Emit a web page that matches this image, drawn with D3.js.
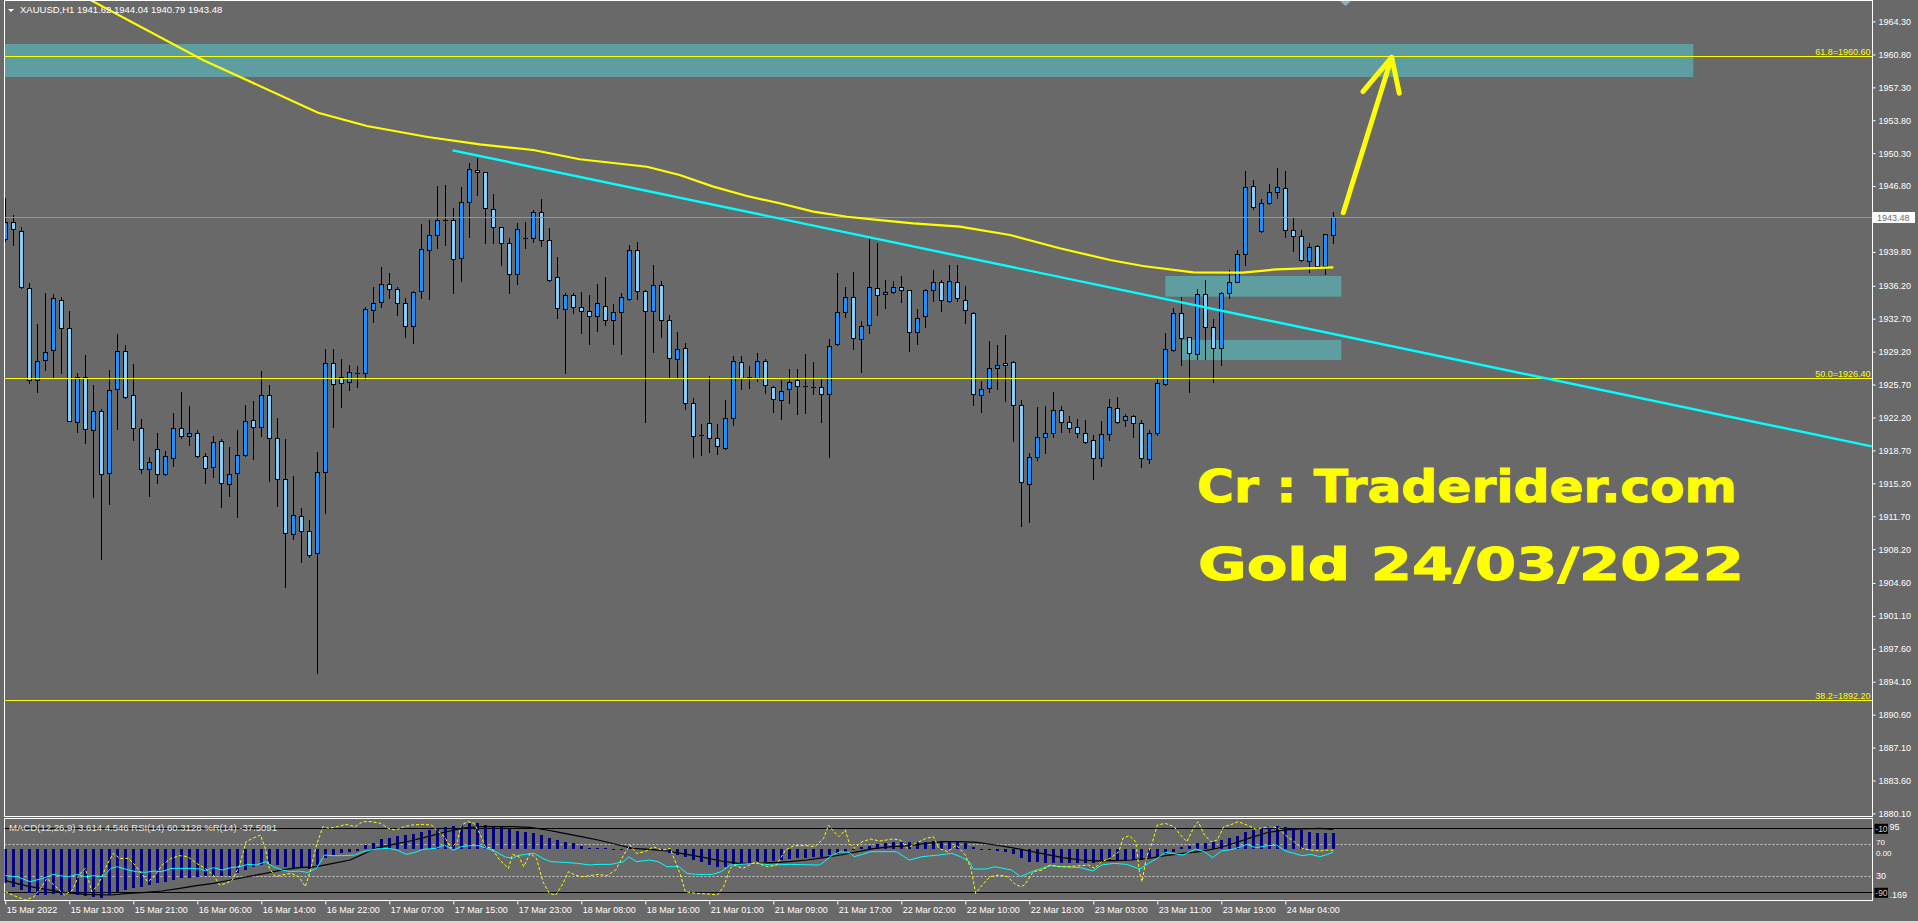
<!DOCTYPE html>
<html><head><meta charset="utf-8">
<script src="https://cdn.jsdelivr.net/npm/d3@7/dist/d3.min.js"></script>
<style>html,body{margin:0;padding:0;background:#696969;overflow:hidden}svg{display:block}</style>
</head><body><svg id="c" width="1918" height="923"></svg>
<script>
// ---------------- DATA ----------------
const symbolHeader = "XAUUSD,H1  1941.62 1944.04 1940.79 1943.48";
const indicatorHeader = "MACD(12,26,9) 3.614 4.546  RSI(14) 60.3128  %R(14) -37.5091";

const opens = [1941.14,1943.02,1942.06,1936.0,1926.18,1928.31,1929.37,1934.65,1931.67,1921.68,
1926.54,1920.87,1922.85,1916.26,1925.19,1929.3,1924.62,1921.04,1916.68,1918.81,
1916.15,1917.85,1921.04,1920.26,1920.51,1918.1,1916.9,1919.66,1915.09,1916.26,
1918.17,1921.93,1921.15,1924.55,1919.98,1915.62,1909.81,1911.72,1910.13,1907.75,
1916.36,1927.95,1926.54,1925.93,1926.96,1926.89,1933.62,1934.44,1936.35,1935.82,
1934.33,1931.89,1935.64,1939.97,1941.56,1943.16,1943.16,1939.12,1945.07,1948.47,
1948.26,1944.33,1942.41,1940.71,1937.42,1941.24,1941.24,1944.01,1941.03,1937.1,
1933.7,1935.19,1933.98,1933.48,1932.95,1934.08,1932.53,1933.38,1934.8,1939.97,
1935.68,1933.48,1936.25,1932.53,1928.38,1929.55,1923.7,1920.37,1921.57,1919.98,
1918.92,1922.1,1928.06,1926.47,1926.36,1928.17,1925.48,1924.06,1925.19,1926.15,
1925.58,1925.48,1925.4,1924.69,1930.01,1933.38,1935.04,1930.5,1932.0,1935.93,
1935.29,1935.57,1936.11,1935.72,1931.25,1932.95,1935.72,1936.64,1934.55,1936.64,
1934.65,1933.34,1924.55,1925.3,1927.42,1927.95,1928.06,1923.49,1915.09,1917.96,
1920.09,1920.51,1922.96,1921.68,1921.15,1920.51,1919.77,1917.93,1920.41,1923.17,
1921.93,1922.35,1921.65,1917.75,1920.58,1925.76,1929.37,1933.27,1930.72,1928.95,
1935.29,1931.85,1929.55,1935.4,1936.64,1939.54,1946.77,1941.99,1944.97,1946.14,
1946.56,1942.1,1941.46,1938.8,1940.39,1938.34,1941.62];
const highs = [1945.5,1943.7,1942.4,1936.46,1932.1,1935.4,1935.3,1934.97,1933.5,1926.96,
1928.84,1925.65,1923.13,1927.21,1931.07,1929.9,1927.88,1922.0,1917.96,1920.5,
1918.63,1922.7,1924.87,1923.4,1920.87,1918.38,1920.23,1919.87,1919.1,1920.87,
1923.52,1923.98,1927.14,1925.65,1922.14,1919.91,1915.97,1912.54,1911.3,1918.49,
1929.44,1929.44,1928.38,1927.77,1927.67,1933.98,1936.11,1938.16,1937.52,1936.04,
1934.86,1935.6,1942.77,1943.19,1946.81,1946.9,1944.43,1946.74,1949.29,1949.75,
1948.3,1945.96,1942.45,1941.24,1942.84,1942.98,1944.26,1945.43,1942.34,1939.26,
1935.47,1935.4,1935.5,1935.22,1936.39,1937.1,1934.26,1935.4,1940.57,1940.82,
1935.75,1938.41,1936.74,1933.06,1931.29,1930.08,1924.23,1921.5,1926.61,1921.5,
1924.06,1928.73,1928.73,1927.67,1929.02,1928.38,1925.55,1926.18,1927.32,1927.32,
1928.91,1928.06,1926.29,1930.5,1937.52,1936.04,1937.63,1932.42,1941.17,1940.71,
1936.78,1936.74,1937.24,1935.8,1933.73,1935.82,1937.88,1936.81,1938.41,1938.41,
1936.18,1933.4,1926.08,1930.33,1929.9,1930.97,1928.24,1924.06,1918.45,1923.35,
1923.42,1924.87,1923.42,1922.35,1922.0,1921.93,1920.33,1921.82,1924.16,1924.41,
1922.57,1922.46,1921.93,1920.87,1926.25,1931.22,1933.8,1935.04,1930.79,1935.86,
1936.81,1932.63,1935.54,1937.88,1940.0,1948.4,1947.45,1945.39,1946.99,1948.69,
1948.4,1943.48,1942.13,1940.71,1940.5,1941.67,1944.04];
const lows = [1941.0,1940.5,1936.0,1925.83,1924.94,1927.24,1926.43,1926.9,1921.8,1920.69,
1919.45,1913.78,1907.11,1912.96,1921.0,1924.3,1919.8,1916.33,1913.88,1915.27,
1916.1,1917.07,1919.98,1919.27,1917.96,1915.27,1915.9,1912.71,1913.88,1911.65,
1918.1,1917.82,1920.26,1915.48,1912.82,1904.14,1909.31,1906.87,1907.4,1895.06,
1912.07,1921.22,1923.35,1925.12,1925.47,1926.25,1932.38,1933.91,1934.93,1933.06,
1930.72,1930.15,1934.93,1934.76,1940.18,1940.54,1935.47,1936.74,1941.35,1945.85,
1940.71,1940.78,1938.45,1935.47,1936.43,1940.25,1940.89,1940.46,1936.7,1932.81,
1926.89,1933.27,1931.22,1929.97,1931.43,1931.99,1929.97,1928.91,1934.69,1934.83,
1921.75,1929.2,1930.79,1926.36,1926.36,1923.06,1917.96,1918.17,1918.49,1918.28,
1918.81,1921.4,1925.19,1925.37,1926.11,1924.84,1922.82,1921.99,1923.7,1922.53,
1922.71,1924.69,1921.68,1917.96,1929.95,1932.85,1929.51,1927.07,1931.22,1933.13,
1933.87,1935.4,1934.51,1929.3,1930.04,1931.85,1934.58,1933.55,1934.5,1934.62,
1932.21,1923.49,1922.82,1924.94,1925.23,1923.99,1919.73,1910.69,1911.12,1917.68,
1918.39,1920.16,1920.62,1920.69,1920.09,1919.45,1915.62,1917.07,1919.8,1921.57,
1921.33,1920.16,1916.97,1917.39,1920.33,1925.65,1929.3,1927.78,1924.94,1928.38,
1928.38,1925.93,1927.74,1934.87,1936.6,1938.41,1944.33,1941.95,1944.9,1945.5,
1941.35,1939.86,1938.84,1937.7,1938.23,1937.45,1940.79];
const closes = [1943.02,1942.2,1936.1,1926.18,1928.24,1929.2,1934.86,1931.67,1921.82,1926.54,
1920.97,1922.85,1916.15,1925.08,1929.3,1924.34,1921.04,1916.68,1917.5,1916.15,
1918.1,1921.04,1920.26,1920.51,1918.14,1916.79,1919.55,1915.2,1916.15,1918.17,
1921.79,1921.15,1924.55,1919.98,1915.62,1909.88,1911.8,1910.13,1907.61,1916.36,
1928.02,1925.72,1925.83,1927.07,1926.96,1933.7,1934.33,1936.35,1935.82,1934.33,
1931.96,1935.57,1940.08,1941.56,1943.16,1943.16,1939.0,1945.07,1948.58,1948.26,
1944.43,1942.41,1940.71,1937.42,1942.2,1941.24,1944.01,1941.03,1936.78,1933.8,
1935.19,1933.91,1933.48,1932.95,1934.33,1932.53,1933.38,1935.04,1939.97,1935.61,
1933.48,1936.25,1932.53,1928.49,1929.44,1923.7,1920.23,1920.37,1919.98,1919.17,
1922.1,1928.17,1926.36,1926.47,1928.17,1925.62,1924.13,1925.05,1926.0,1925.54,
1925.58,1925.48,1924.66,1929.83,1933.38,1935.04,1930.61,1931.96,1936.04,1935.19,
1935.5,1936.11,1935.72,1931.25,1932.81,1935.72,1936.64,1934.65,1936.74,1934.86,
1933.59,1924.66,1925.19,1927.42,1927.74,1927.74,1923.49,1915.3,1917.96,1920.09,
1920.51,1922.96,1921.68,1921.04,1920.58,1919.63,1917.93,1920.41,1923.28,1921.75,
1922.35,1921.65,1917.85,1920.58,1925.83,1929.44,1933.27,1930.61,1929.02,1935.29,
1931.85,1929.55,1935.4,1936.64,1939.54,1946.67,1944.54,1944.97,1946.14,1946.67,
1942.1,1941.46,1938.91,1940.29,1938.34,1941.67,1943.48];

// Moving average (yellow) read at points [bar, price]
const maPoints = [[0,1971.4],[10.6,1966.6],[24.7,1960.21],[39.1,1954.6],[45.2,1953.19],[52.8,1952.02],
[59.3,1951.24],[66,1950.64],[71.8,1949.65],[80.2,1948.86],[84.3,1947.98],[88.5,1946.74],[92.7,1945.75],
[96.8,1944.97],[101,1944.08],[105.2,1943.54],[109.3,1943.19],[113.5,1942.84],[119.3,1942.48],
[125.6,1941.6],[131.8,1940.19],[138.1,1938.94],[142.2,1938.3],[148.5,1937.63],[154.7,1937.59],
[158.9,1937.95],[166,1938.16]];
// Trend line (cyan), ray to the right
const trendPoints = [[55.9,1950.6],[233.3,1919.13]];
// Rectangles: [startBar, endBar, topPrice, bottomPrice]
const zones = [[-2,211,1961.91,1958.4],[145,167,1937.24,1935.04],[147,167,1930.44,1928.31]];
// Fibonacci levels
const fibRatios = ["61.8","50.0","38.2"];
const fibPrices = [1960.60,1926.40,1892.20];
const bidPrice = 1943.48;
// Arrow [bar, price]
const arrowShaft = [[167.25,1943.97],[173.3,1960.49]];
const arrowHead = [[169.7,1956.84],[173.3,1960.49],[174.25,1956.67]];

const priceTicks = [1964.30,1960.80,1957.30,1953.80,1950.30,1946.80,1939.80,1936.20,1932.70,1929.20,
1925.70,1922.20,1918.70,1915.20,1911.70,1908.20,1904.60,1901.10,1897.60,1894.10,1890.60,1887.10,1883.60,1880.10];
const timeTickBars = [0,8,16,24,32,40,48,56,64,72,80,88,96,104,112,120,128,136,144,152,160];
const timeLabels = ["15 Mar 2022","15 Mar 13:00","15 Mar 21:00","16 Mar 06:00","16 Mar 14:00","16 Mar 22:00",
"17 Mar 07:00","17 Mar 15:00","17 Mar 23:00","18 Mar 08:00","18 Mar 16:00","21 Mar 01:00","21 Mar 09:00",
"21 Mar 17:00","22 Mar 02:00","22 Mar 10:00","22 Mar 18:00","23 Mar 03:00","23 Mar 11:00","23 Mar 19:00","24 Mar 04:00"];

// MACD main (histogram), per bar
const macdHist = [-7.98,-8.76,-9.53,-10.31,-10.70,-10.70,-10.54,-10.70,-10.54,-10.70,
-10.93,-11.09,-11.32,-10.70,-9.92,-9.53,-9.15,-8.76,-8.37,-7.98,
-7.60,-7.21,-6.82,-6.67,-6.43,-6.28,-6.20,-6.28,-6.20,-5.66,
-4.88,-4.11,-3.72,-3.57,-3.72,-4.11,-4.34,-4.50,-4.65,-3.72,
-2.17,-1.40,-1.01,-0.62,-0.47,0.93,1.32,2.33,2.64,3.10,
3.26,3.49,3.88,4.42,4.65,5.04,5.27,5.58,5.97,5.97,
5.58,5.43,5.04,4.65,4.19,4.03,3.64,3.26,2.48,2.09,
1.71,1.32,0.70,0.31,0.16,0.16,-0.08,-0.23,0.16,0.16,
-0.08,-0.23,-0.47,-1.01,-1.40,-1.94,-2.56,-2.95,-3.72,-4.11,
-4.11,-3.72,-3.57,-3.33,-2.95,-2.95,-2.71,-2.56,-2.40,-2.17,
-2.02,-1.94,-1.78,-1.40,-1.16,-0.62,-0.23,0.54,0.78,1.09,
1.32,1.71,1.71,1.71,1.55,1.71,1.86,1.94,1.86,1.71,
1.32,0.54,-0.08,-0.23,-0.47,-0.78,-1.24,-2.17,-2.95,-3.10,
-3.33,-3.33,-3.18,-3.18,-3.18,-3.18,-3.18,-2.95,-2.79,-2.71,
-2.71,-2.56,-2.56,-2.17,-1.78,-1.16,-0.62,0.54,0.78,1.32,
1.32,1.71,2.09,2.48,3.10,4.03,4.42,4.81,5.35,5.43,
5.19,4.81,4.42,4.03,3.64,3.64,3.614];
const macdSignal = [[0,-7.36],[2.5,-8.53],[4.7,-9.30],[7.4,-10.08],[10.0,-10.54],[13.2,-10.70],[15.4,-10.31],
[17.5,-10.08],[19.6,-9.77],[21.8,-9.15],[23.9,-8.53],[26.0,-7.98],[28.2,-7.21],[30.3,-6.43],[32.5,-5.66],
[34.6,-4.88],[36.7,-4.34],[38.9,-4.11],[41.0,-3.33],[43.1,-2.56],[44.7,-1.24],[46.3,0.16],[48.5,1.09],
[50.6,1.86],[52.8,2.87],[54.9,3.88],[57.0,4.81],[59.2,5.19],[63.4,5.19],[65.6,5.04],[67.7,4.42],[69.9,3.64],
[72.0,2.87],[74.1,2.09],[76.3,1.09],[78.4,0.16],[80.5,-0.08],[82.7,-0.47],[85.2,-1.24],[87.4,-2.02],
[89.5,-2.79],[91.6,-3.33],[93.8,-3.33],[95.9,-3.18],[98.0,-2.95],[100.2,-2.56],[102.3,-2.02],[104.4,-1.40],
[106.6,-0.62],[108.7,0.16],[110.9,0.54],[113.0,0.78],[115.1,1.32],[117.3,1.71],[119.4,1.71],[121.5,1.55],
[123.7,0.93],[125.8,0.31],[128.0,-0.47],[130.1,-1.24],[132.2,-2.02],[134.4,-2.56],[136.5,-2.79],[138.6,-2.71],
[140.8,-2.56],[142.9,-2.17],[145.0,-1.55],[147.2,-1.01],[149.3,-0.62],[151.5,0.16],[153.6,1.32],[155.7,2.64],
[157.9,3.88],[160.0,4.42],[162.1,4.65],[164.3,4.81],[166,4.546]];
const rsiPoints = [[0,30.8],[1.5,29.5],[3.1,23.3],[4.7,27.4],[6.0,32.4],[6.8,30.8],[7.9,29.5],[9.0,32.4],[10.0,29.5],
[11.1,30.8],[12.2,29.5],[13.2,39.9],[14.0,42.0],[15.4,37.8],[16.4,35.8],[17.5,34.9],[18.6,36.6],[19.6,35.8],
[20.7,39.9],[21.8,39.9],[23.4,39.9],[24.4,39.1],[25.0,37.0],[26.0,40.8],[27.1,37.8],[28.2,40.8],[29.3,42.0],
[30.3,44.9],[31.4,44.1],[32.5,48.3],[33.5,42.0],[34.6,37.8],[35.7,35.8],[36.7,36.6],[37.8,34.9],[38.9,39.9],
[39.9,56.6],[41.0,55.8],[42.1,55.8],[43.7,56.6],[44.7,60.8],[46.3,64.1],[47.9,64.9],[49.0,62.8],[50.1,57.4],
[51.2,59.9],[52.2,63.7],[53.8,64.9],[54.9,69.1],[56.0,62.8],[57.0,67.0],[58.1,68.3],[59.2,68.3],[60.2,64.9],
[61.3,60.8],[62.4,54.5],[63.4,52.4],[64.0,55.8],[65.0,57.4],[66.1,58.7],[67.2,52.4],[68.2,48.3],[69.9,47.4],
[71.5,46.2],[73.1,44.1],[74.1,44.9],[75.7,44.9],[77.3,48.3],[77.9,54.5],[78.9,48.3],[80.5,50.3],[81.6,48.3],
[82.7,42.0],[84.2,42.0],[85.2,33.7],[86.3,32.4],[88.4,32.4],[89.5,35.8],[90.6,44.1],[91.6,44.9],[93.8,46.2],
[95.9,44.1],[98.0,44.9],[101.8,44.1],[103.4,56.6],[104.4,60.8],[105.5,59.9],[106.1,54.5],[107.1,57.4],
[108.2,60.8],[111.4,60.8],[113.0,50.3],[114.6,54.5],[116.7,56.6],[118.3,58.7],[119.4,54.5],[120.5,48.3],
[121.0,39.1],[122.6,39.1],[123.7,42.0],[125.8,37.8],[126.9,29.5],[128.5,36.6],[129.6,39.9],[130.6,43.3],
[132.2,42.0],[134.4,40.8],[136.0,36.6],[137.0,44.1],[138.6,46.2],[140.2,44.9],[141.8,39.1],[142.9,46.2],
[144.0,52.4],[145.0,59.9],[147.2,56.6],[148.8,64.1],[149.9,60.8],[150.9,53.3],[152.0,61.6],[153.6,64.1],
[155.2,69.9],[156.3,65.8],[157.9,68.3],[158.9,69.1],[160.0,61.6],[161.1,58.7],[162.1,55.8],[163.2,57.4],
[164.3,54.5],[165.3,57.4],[166,60.31]];
const wprPoints = [[0,-89.2],[0.9,-93.4],[2.5,-99.7],[3.6,-95.5],[4.7,-80.9],[5.2,-72.6],[6.3,-83.0],[7.4,-93.4],
[8.4,-87.2],[9.2,-68.4],[10.0,-60.1],[10.8,-89.2],[11.6,-80.9],[12.7,-55.9],[13.5,-41.3],[14.3,-47.6],[15.4,-47.6],
[16.2,-55.9],[17.0,-66.3],[17.8,-76.7],[18.6,-70.5],[19.6,-55.9],[20.7,-47.6],[21.8,-44.2],[22.8,-45.5],[23.9,-53.8],
[25.0,-60.1],[26.0,-68.4],[26.8,-80.9],[27.6,-78.8],[28.4,-74.7],[29.3,-55.9],[30.1,-26.7],[30.9,-22.6],[31.9,-18.4],
[32.5,-35.1],[33.0,-60.1],[33.8,-70.5],[34.6,-68.4],[35.7,-66.3],[36.7,-70.5],[37.5,-83.0],[38.1,-64.2],[38.9,-30.9],
[39.7,-8.0],[40.5,-10.1],[41.5,-8.0],[42.6,-5.1],[43.7,-8.0],[44.7,-1.7],[45.8,-1.7],[46.9,-3.8],[47.9,-10.1],
[48.8,-12.2],[49.8,-8.0],[50.9,-5.9],[52.2,-5.1],[53.3,-5.9],[54.1,-14.2],[54.9,-20.5],[55.7,-35.1],[56.5,-26.7],
[57.0,-5.9],[57.8,-1.7],[58.6,-3.8],[59.4,-18.4],[60.0,-33.0],[60.8,-35.1],[61.8,-49.7],[62.9,-60.1],[63.4,-42.6],
[64.2,-45.5],[64.8,-58.0],[65.6,-41.3],[66.4,-47.6],[67.2,-76.7],[68.0,-91.3],[68.8,-93.4],[69.6,-80.9],[70.4,-64.2],
[71.2,-68.4],[72.0,-70.5],[73.1,-69.2],[74.1,-67.6],[75.2,-69.2],[76.3,-62.2],[77.3,-43.4],[78.1,-30.9],[78.9,-41.3],
[80.0,-39.2],[81.0,-33.0],[82.1,-37.2],[83.1,-35.1],[83.6,-47.6],[84.4,-68.4],[85.0,-89.2],[86.3,-91.3],[87.9,-92.2],
[89.0,-93.4],[89.8,-83.0],[90.6,-60.1],[91.1,-55.9],[92.2,-60.1],[93.0,-55.9],[93.8,-51.7],[94.6,-55.9],[95.4,-58.0],
[96.4,-55.9],[97.5,-37.2],[98.6,-31.7],[100.2,-31.7],[101.2,-33.0],[102.3,-22.6],[102.9,-5.9],[103.4,-12.2],
[104.2,-20.5],[105.0,-12.2],[105.5,-28.8],[106.1,-35.1],[107.1,-26.7],[108.2,-23.4],[109.3,-25.9],[110.9,-23.4],
[111.9,-24.6],[112.7,-35.1],[113.8,-28.8],[115.1,-22.6],[116.0,-20.5],[116.7,-35.1],[117.8,-39.2],[118.9,-30.9],
[120.0,-43.4],[120.7,-60.1],[121.3,-91.3],[122.1,-80.9],[123.1,-70.5],[124.2,-68.4],[125.3,-70.5],[126.1,-78.8],
[126.9,-83.0],[127.4,-80.9],[128.5,-64.2],[129.6,-62.2],[130.6,-55.9],[131.7,-58.0],[133.0,-58.0],[134.4,-56.7],
[135.4,-55.9],[136.2,-60.1],[137.0,-51.7],[138.1,-47.6],[139.2,-39.2],[139.7,-22.6],[140.5,-19.2],[141.3,-26.7],
[141.8,-66.3],[142.1,-76.7],[142.6,-47.6],[143.4,-26.7],[144.0,-5.9],[145.0,-3.8],[146.1,-8.0],[146.9,-18.4],
[147.7,-26.7],[148.5,-10.1],[149.1,-1.7],[149.9,-18.4],[150.7,-26.7],[151.5,-24.6],[152.3,-8.0],[153.1,-5.9],
[154.1,-1.7],[155.2,-5.9],[156.3,-10.9],[157.3,-9.2],[158.4,-8.0],[159.2,-10.1],[160.0,-18.4],[161.1,-26.7],
[162.1,-35.1],[163.2,-37.2],[164.3,-38.4],[165.3,-37.2],[166,-37.51]];
const rsiLevels = [70,30];
const wprLevels = [-10,-90];
// subwindow scale labels (only their visible tails show beside the level boxes)
const macdMaxTail = "95", macdMinTail = ".169", macdZeroLabel = "0.00";

// ---------------- LAYOUT ----------------
const W = 1918, H = 923;
const L = 4.5, T = 0.5, R = 1872.5, MB = 816.5, PT = 818.5, PB = 900.5;
const FONT = "'Liberation Sans', Arial, sans-serif";
const BULL = "#1E90FF", BEAR = "#87CEFA", BG = "#696969";

const x = d3.scaleLinear().domain([0, 166]).range([5.3, 1333.3]);
const y = d3.scaleLinear().domain([1964.3, 1880.1]).range([21.5, 813.4]);
const macdY = d3.scaleLinear().domain([-11.169, 6.995]).range([897.0, 818.9]);
const rsiY = d3.scaleLinear().domain([0, 100]).range([900.3, 820.3]);
const wprY = d3.scaleLinear().domain([-100, 0]).range([900.3, 820.3]);

const svg = d3.select('#c');
svg.append('rect').attr('width', W).attr('height', H).attr('fill', BG);
svg.append('rect').attr('x', 0).attr('y', 921).attr('width', W).attr('height', 2).attr('fill', '#d8d8d8');

const defs = svg.append('defs');
defs.append('clipPath').attr('id', 'clipMain').append('rect')
  .attr('x', L).attr('y', T).attr('width', R - L).attr('height', MB - T);
defs.append('clipPath').attr('id', 'clipPanel').append('rect')
  .attr('x', L).attr('y', PT).attr('width', R - L).attr('height', PB - PT);

const gMain = svg.append('g').attr('clip-path', 'url(#clipMain)');

// zones
gMain.selectAll('rect.zone').data(zones).join('rect').attr('class', 'zone')
  .attr('x', d => x(d[0])).attr('y', d => y(d[2]))
  .attr('width', d => x(d[1]) - x(d[0])).attr('height', d => y(d[3]) - y(d[2]))
  .attr('fill', '#5F9EA0');

// candles
const bars = d3.range(opens.length).map(i => ({i, o: opens[i], h: highs[i], l: lows[i], c: closes[i]}));
const gC = gMain.append('g').attr('shape-rendering', 'crispEdges');
bars.forEach(b => {
  const cx = Math.round(x(b.i));
  gC.append('line').attr('x1', cx + 0.5).attr('x2', cx + 0.5)
    .attr('y1', Math.round(y(b.h))).attr('y2', Math.round(y(b.l)) + 1)
    .attr('stroke', '#000').attr('stroke-width', 1);
  const top = Math.round(y(Math.max(b.o, b.c))), bot = Math.round(y(Math.min(b.o, b.c)));
  if (bot - top >= 1) {
    gC.append('rect').attr('x', cx - 1.5).attr('y', top + 0.5).attr('width', 4).attr('height', bot - top)
      .attr('fill', b.c >= b.o ? BULL : BEAR).attr('stroke', '#000').attr('stroke-width', 1);
  } else {
    gC.append('line').attr('x1', cx - 2).attr('x2', cx + 3).attr('y1', top + 0.5).attr('y2', top + 0.5)
      .attr('stroke', '#000').attr('stroke-width', 1);
  }
});

// fib lines
fibPrices.forEach((p, k) => {
  const yy = Math.round(y(p)) + 0.5;
  gMain.append('line').attr('x1', L).attr('x2', R).attr('y1', yy).attr('y2', yy)
    .attr('stroke', '#FFFF00').attr('stroke-width', 1);
  gMain.append('text').attr('x', R - 2).attr('y', yy - 2).attr('text-anchor', 'end')
    .attr('font-family', FONT).attr('font-size', 9).attr('fill', '#FFFF00')
    .text(fibRatios[k] + '=' + p.toFixed(2));
});

// bid line
const by = Math.round(y(bidPrice)) + 0.5;
gMain.append('line').attr('x1', L).attr('x2', R).attr('y1', by).attr('y2', by)
  .attr('stroke', '#8796A8').attr('stroke-width', 1);

// MA
const lineGen = d3.line().x(d => x(d[0])).y(d => y(d[1]));
gMain.append('path').attr('d', lineGen(maPoints)).attr('fill', 'none')
  .attr('stroke', '#FFFF00').attr('stroke-width', 2.2);
// trend line
gMain.append('path').attr('d', lineGen(trendPoints)).attr('fill', 'none')
  .attr('stroke', '#00FFFF').attr('stroke-width', 2.4);
// arrow
gMain.append('path').attr('d', lineGen(arrowShaft)).attr('fill', 'none')
  .attr('stroke', '#FFFF00').attr('stroke-width', 5).attr('stroke-linecap', 'round');
gMain.append('path').attr('d', lineGen(arrowHead)).attr('fill', 'none')
  .attr('stroke', '#FFFF00').attr('stroke-width', 5).attr('stroke-linecap', 'round').attr('stroke-linejoin', 'round');

// watermark text
gMain.append('text').attr('x', 1197).attr('y', 502).attr('font-family', "'DejaVu Sans', sans-serif")
  .attr('font-weight', 'bold').attr('font-size', 45).attr('fill', '#FFFF00')
  .attr('stroke', '#FFFF00').attr('stroke-width', 1)
  .attr('textLength', 540).attr('lengthAdjust', 'spacingAndGlyphs').text('Cr : Traderider.com');
gMain.append('text').attr('x', 1198).attr('y', 580).attr('font-family', "'DejaVu Sans', sans-serif")
  .attr('font-weight', 'bold').attr('font-size', 45).attr('fill', '#FFFF00')
  .attr('stroke', '#FFFF00').attr('stroke-width', 1)
  .attr('textLength', 546).attr('lengthAdjust', 'spacingAndGlyphs').text('Gold 24/03/2022');

// header
svg.append('path').attr('d', 'M8,9 L14,9 L11,12 Z').attr('fill', '#fff');
svg.append('text').attr('x', 20).attr('y', 13).attr('font-family', FONT).attr('font-size', 9.5)
  .attr('fill', '#fff').text(symbolHeader);
// shift marker
svg.append('path').attr('d', 'M1340,1 L1351,1 L1345.5,6 Z').attr('fill', '#9aa8c0');

// frames
svg.append('rect').attr('x', L).attr('y', T).attr('width', R - L).attr('height', MB - T)
  .attr('fill', 'none').attr('stroke', '#fff').attr('stroke-width', 1);
svg.append('rect').attr('x', L).attr('y', PT).attr('width', R - L).attr('height', PB - PT)
  .attr('fill', 'none').attr('stroke', '#fff').attr('stroke-width', 1);

// price axis
const yAxis = d3.axisRight(y).tickValues(priceTicks).tickFormat(d3.format('.2f')).tickSize(3).tickPadding(3);
const gy = svg.append('g').attr('transform', `translate(${R},0)`).call(yAxis);
gy.select('.domain').remove();
gy.selectAll('line').attr('stroke', '#fff');
gy.selectAll('text').attr('fill', '#fff').attr('font-family', FONT).attr('font-size', 9);

// bid label
svg.append('rect').attr('x', 1873).attr('y', by - 5.5).attr('width', 42).attr('height', 11).attr('fill', '#fff');
svg.append('text').attr('x', 1877).attr('y', by + 3.5).attr('font-family', FONT).attr('font-size', 9)
  .attr('fill', '#6a6a6a').text(bidPrice.toFixed(2));

// ---------------- indicator panel ----------------
const gP = svg.append('g').attr('clip-path', 'url(#clipPanel)');
rsiLevels.forEach(v => {
  const yy = Math.round(rsiY(v)) + 0.5;
  gP.append('line').attr('x1', L).attr('x2', R).attr('y1', yy).attr('y2', yy)
    .attr('stroke', '#c8c8c8').attr('stroke-dasharray', '2,2');
});
wprLevels.forEach(v => {
  const yy = Math.round(wprY(v)) + 0.5;
  gP.append('line').attr('x1', L).attr('x2', R).attr('y1', yy).attr('y2', yy)
    .attr('stroke', '#000').attr('stroke-width', 1);
});
gP.append('g').attr('shape-rendering', 'crispEdges').selectAll('rect').data(macdHist).join('rect')
  .attr('x', (d, i) => Math.round(x(i)) - 1)
  .attr('y', d => macdY(Math.max(d, 0)))
  .attr('width', 3)
  .attr('height', d => Math.max(1, Math.abs(macdY(d) - macdY(0))))
  .attr('fill', '#000080');
gP.append('path').attr('d', d3.line().x(d => x(d[0])).y(d => macdY(d[1]))(macdSignal))
  .attr('fill', 'none').attr('stroke', '#000').attr('stroke-width', 1.2);
gP.append('path').attr('d', d3.line().x(d => x(d[0])).y(d => rsiY(d[1]))(rsiPoints))
  .attr('fill', 'none').attr('stroke', '#00FFFF').attr('stroke-width', 1);
gP.append('path').attr('d', d3.line().x(d => x(d[0])).y(d => wprY(d[1]))(wprPoints))
  .attr('fill', 'none').attr('stroke', '#FFFF00').attr('stroke-width', 1).attr('stroke-dasharray', '3,2');

svg.append('text').attr('x', 9).attr('y', 831).attr('font-family', FONT).attr('font-size', 9)
  .attr('fill', '#e6e6e6').attr('textLength', 268).attr('lengthAdjust', 'spacingAndGlyphs').text(indicatorHeader);

// panel right labels
const lab = (tx, xx, yy, fill, fs) => svg.append('text').attr('x', xx).attr('y', yy).attr('font-family', FONT)
  .attr('font-size', fs || 9).attr('fill', fill || '#fff').text(tx);
wprLevels.forEach(v => {
  const yy = wprY(v);
  svg.append('rect').attr('x', 1874.5).attr('y', yy - 4.5).attr('width', 13.5).attr('height', 10).attr('fill', '#000');
  lab(String(v), 1875.3, yy + 3.3, '#d0d0d0', 8.5);
});
lab(macdMaxTail, 1889.5, 829.5);
lab(macdMinTail, 1889.5, 897.5);
lab(String(rsiLevels[0]), 1876, 845.3, '#fff', 8);
lab(macdZeroLabel, 1876, 855.6, '#fff', 8);
lab(String(rsiLevels[1]), 1876, rsiY(rsiLevels[1]) + 3);

// time axis
const xAxis = d3.axisBottom(x).tickValues(timeTickBars).tickFormat((d, i) => timeLabels[i]).tickSize(4).tickPadding(2);
const gx = svg.append('g').attr('transform', `translate(0,${PB})`).call(xAxis);
gx.select('.domain').remove();
gx.selectAll('line').attr('stroke', '#fff');
gx.selectAll('text').attr('fill', '#fff').attr('font-family', FONT).attr('font-size', 9)
  .attr('text-anchor', 'start').attr('x', 1).attr('y', 6);
</script>
</body></html>
